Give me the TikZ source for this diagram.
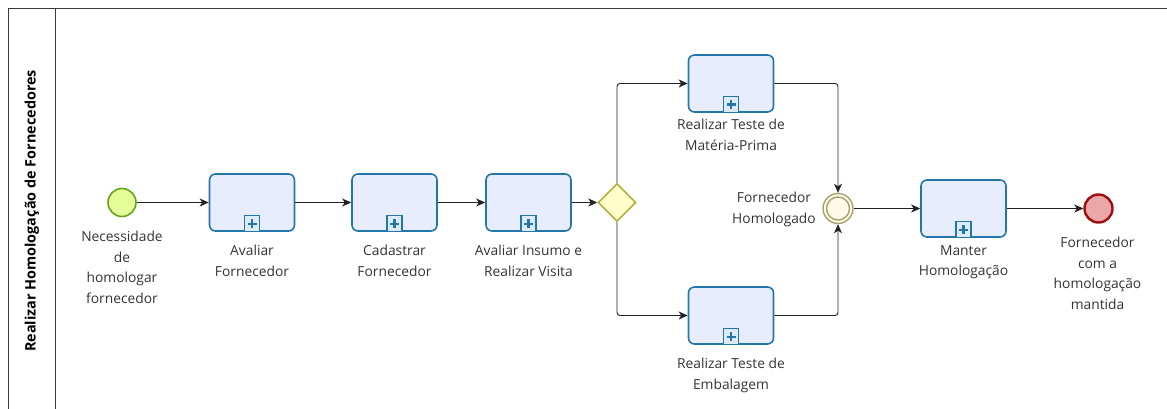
\documentclass[tikz,border=0pt]{standalone}
\usepackage{fontspec}
\setmainfont{Open Sans}
\usetikzlibrary{arrows.meta,shapes.geometric}

\definecolor{poolline}{HTML}{3A3A3A}
\definecolor{taskline}{HTML}{2277A8}
\definecolor{taskfill}{HTML}{E8EDFD}
\definecolor{markfill}{HTML}{DDEBF7}
\definecolor{startline}{HTML}{63A61A}
\definecolor{startfill}{HTML}{E5FD99}
\definecolor{midline}{HTML}{A7A36C}
\definecolor{midfill}{HTML}{FFF9EA}
\definecolor{endline}{HTML}{A10E0E}
\definecolor{endfill}{HTML}{EBA6A8}
\definecolor{gwline}{HTML}{ABA92A}
\definecolor{gwfill}{HTML}{FFFECA}
\definecolor{flowline}{HTML}{222222}
\definecolor{labeltext}{HTML}{333333}

\begin{document}
\begin{tikzpicture}[x=1pt,y=-1pt,
  task/.style={draw=taskline, fill=taskfill, line width=1.6pt, rounded corners=6pt,
    minimum width=85pt, minimum height=57pt, inner sep=0pt},
  startev/.style={circle, draw=startline, fill=startfill, line width=1.6pt,
    minimum size=28pt, inner sep=0pt},
  midev/.style={circle, draw=midline, fill=midfill, line width=1.4pt,
    minimum size=30pt, inner sep=0pt},
  endev/.style={circle, draw=endline, fill=endfill, line width=2.4pt,
    minimum size=28pt, inner sep=0pt},
  gateway/.style={diamond, draw=gwline, fill=gwfill, line width=1.4pt, aspect=1,
    minimum width=38pt, minimum height=38pt, inner sep=0pt},
  flow/.style={draw=flowline, line width=0.9pt, rounded corners=3pt,
    -{Stealth[length=9pt,width=8pt,inset=2.5pt]}},
  lbl/.style={anchor=north, align=center, inner sep=0pt, text=labeltext,
    font=\fontsize{13.8}{20.5}\selectfont},
  submarker/.pic={
    \draw[draw=taskline, fill=markfill, line width=1.3pt] (-7.5,-16) rectangle (7.5,0);
    \draw[draw=taskline, line width=2.6pt] (-4.5,-8) -- (4.5,-8) (0,-12.5) -- (0,-3.5);
  }]

\useasboundingbox (0,0) rectangle (1167,409);

% pool and lane
\draw[poolline, line width=1pt] (8,409) -- (8,9) -- (1167,9);
\draw[poolline, line width=1pt] (55,9) -- (55,409);
\node[rotate=90, font=\bfseries\fontsize{14.4}{17}\selectfont, text=black] (lane) at (32,211)
  {Realizar Homologação de Fornecedores};

% flow objects
\node[startev] (start) at (122,202.5) {};
\node[task] (t1) at (252,202.5) {};
\node[task] (t2) at (394.5,202.5) {};
\node[task] (t3) at (528.5,202.5) {};
\node[gateway] (gw) at (617,202.5) {};
\node[task] (tt) at (731,83.5) {};
\node[task] (tb) at (731,315.5) {};
\node[midev] (ie) at (838,208.5) {};
\draw[midline, line width=1.4pt] (ie.center) circle (11.5);
\node[task] (t5) at (963.5,208.5) {};
\node[endev] (end) at (1098.5,208.5) {};

% sub-process markers
\foreach \t in {t1,t2,t3,tt,tb,t5}
  \pic at (\t.south) {submarker};

% labels
\node[lbl] (lstart) at (122,231) {Necessidade\\de\\homologar\\fornecedor};
\node[lbl] (l1) at (252,245) {Avaliar\\Fornecedor};
\node[lbl] (l2) at (394.5,245) {Cadastrar\\Fornecedor};
\node[lbl] (l3) at (528.5,245) {Avaliar Insumo e\\Realizar Visita};
\node[lbl] (ltt) at (731,119) {Realizar Teste de\\Matéria-Prima};
\node[lbl] (ltb) at (731,358) {Realizar Teste de\\Embalagem};
\node[lbl] (lie) at (774,192) {Fornecedor\\Homologado};
\node[lbl] (l5) at (963.5,245) {Manter\\Homologação};
\node[lbl] (lend) at (1097.5,237) {Fornecedor\\com a\\homologação\\mantida};

% sequence flows
\draw[flow] (start) -- (t1);
\draw[flow] (t1) -- (t2);
\draw[flow] (t2) -- (t3);
\draw[flow] (t3) -- (gw);
\draw[flow] (gw.north) |- (tt.west);
\draw[flow] (gw.south) |- (tb.west);
\draw[flow] (tt.east) -| (ie.north);
\draw[flow] (tb.east) -| (ie.south);
\draw[flow] (ie) -- (t5);
\draw[flow] (t5) -- (end);
\end{tikzpicture}
\end{document}
